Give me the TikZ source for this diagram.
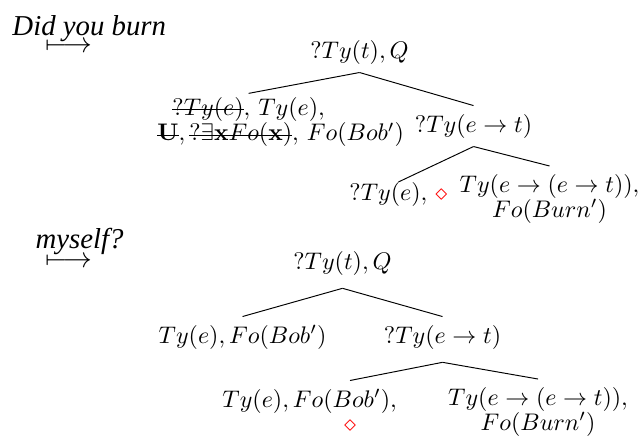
\documentclass[tikz,border=0pt]{standalone}
\usepackage[no-math]{fontspec}
\setmainfont{Liberation Serif}
\newsavebox\strkbox
\newcommand{\strk}[1]{\sbox\strkbox{#1}\rlap{\usebox\strkbox}\rule[2.3pt]{\wd\strkbox}{0.4pt}}
\begin{document}
\begin{tikzpicture}[
  word/.style={font=\large\rmfamily\itshape, anchor=base west, inner sep=0pt},
  maps/.style={font=\large, inner sep=0pt},
  dsnode/.style={anchor=base, align=center},
  dsleft/.style={anchor=base west},
  dstwo/.style={anchor=north, align=center},
  ptr/.style={text=red, inner sep=0pt},
  branch/.style={thin, black}
]
  \useasboundingbox (0,0) rectangle (9.373,6.386);

  % === STEP 1: Did you burn ===
  \node[word] (w1) at (0.176, 5.873) {Did you burn};
  \node[maps] (m1) at (1.011, 5.697) {$\longmapsto$};

  \node[dsnode] (r1) at (5.265, 5.536) {$?Ty(t), Q$};
  \node[dsleft] (lc1a) at (2.402, 4.701) {\strk{$?Ty(e)$}$,\,Ty(e),$};
  \node[dsleft] (lc1b) at (2.182, 4.321) {\strk{$\mathbf{U}$}$,\,$\strk{$?\exists\mathbf{x}Fo(\mathbf{x})$}$,\,Fo(Bob')$};
  \node[dsnode] (rc1) at (6.935, 4.452) {$?Ty(e\rightarrow t)$};
  \node[dsleft] (c21) at (4.994, 3.456) {$?Ty(e),\,{\color{red}\diamond}$};
  \node[dstwo] (c22) at (8.048, 3.955) {$Ty(e\rightarrow(e\rightarrow t)),$\\[-1.6pt]$Fo(Burn')$};

  \draw[branch] (r1.south) -- ([yshift=-2pt]lc1a.north);
  \draw[branch] (r1.south) -- (rc1.north);
  \draw[branch] (rc1.south) -- ([yshift=-3.5pt]c21.north);
  \draw[branch] (rc1.south) -- (c22.north);

  % === STEP 2: myself? ===
  \node[word] (w2) at (0.513, 2.753) {myself?};
  \node[maps] (m2) at (1.011, 2.548) {$\longmapsto$};

  \node[dsnode] (r2) at (5.016, 2.446) {$?Ty(t), Q$};
  \node[dsnode] (lc2) at (3.552, 1.362) {$Ty(e), Fo(Bob')$};
  \node[dsnode] (rc2) at (6.481, 1.362) {$?Ty(e\rightarrow t)$};
  \node[dsleft] (c31) at (3.134, 0.425) {$Ty(e), Fo(Bob'),$};
  \node[ptr] (ptr2) at (5.126, 0.146) {$\diamond$};
  \node[dstwo] (c32) at (7.880, 0.835) {$Ty(e\rightarrow(e\rightarrow t)),$\\[-1.6pt]$Fo(Burn')$};

  \draw[branch] ([yshift=-2pt]r2.south) -- (lc2.north);
  \draw[branch] ([yshift=-2pt]r2.south) -- (rc2.north);
  \draw[branch] ([yshift=-2pt]rc2.south) -- (ptr2 |- c31.north);
  \draw[branch] ([yshift=-2pt]rc2.south) -- (c32.north);
\end{tikzpicture}
\end{document}
